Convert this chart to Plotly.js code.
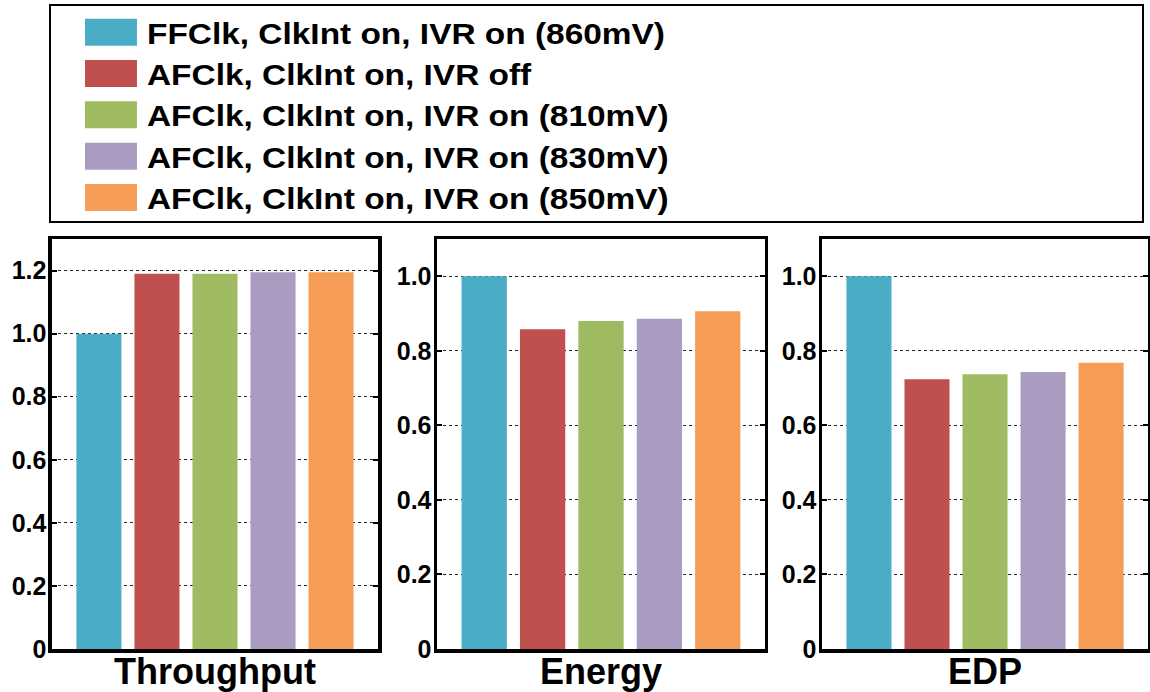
<!DOCTYPE html>
<html>
<head>
<meta charset="utf-8">
<script src="https://cdn.plot.ly/plotly-3.0.1.min.js"></script>
<style>
  html, body { margin: 0; padding: 0; background: #fff; }
  #chart { width: 1150px; height: 692px; }
  g.legendpoints path { transform: translate(36px, 0px) scale(4.33, 2.25) !important; }
  text.legendtext { transform-box: fill-box; transform-origin: left center; transform: scaleX(1.133); }
</style>
</head>
<body>
<div id="chart"></div>
<script>
// ---- data ----
const metrics = ['Throughput', 'Energy', 'EDP'];
const seriesNames = [
  'FFClk, ClkInt on, IVR on (860mV)',
  'AFClk, ClkInt on, IVR off',
  'AFClk, ClkInt on, IVR on (810mV)',
  'AFClk, ClkInt on, IVR on (830mV)',
  'AFClk, ClkInt on, IVR on (850mV)'
];
const throughput = [1.0, 1.19, 1.19, 1.195, 1.195];
const energy     = [1.0, 0.858, 0.880, 0.886, 0.906];
const edp        = [1.0, 0.724, 0.737, 0.743, 0.768];
const colors = ['#4BACC6', '#C0504D', '#9FBB62', '#AA9BC0', '#F59D56'];
const yTicks1 = [0, 0.2, 0.4, 0.6, 0.8, 1.0, 1.2];
const yTickText1 = ['0', '0.2', '0.4', '0.6', '0.8', '1.0', '1.2'];
const yTicks2 = [0, 0.2, 0.4, 0.6, 0.8, 1.0];
const yTickText2 = ['0', '0.2', '0.4', '0.6', '0.8', '1.0'];

const metricValues = [throughput, energy, edp];
const axisIds = [['x', 'y'], ['x2', 'y2'], ['x3', 'y3']];

const traces = [];
metricValues.forEach((vals, m) => {
  seriesNames.forEach((name, s) => {
    traces.push({
      type: 'bar',
      name: name,
      legendgroup: 's' + s,
      showlegend: m === 0,
      x: [metrics[m]],
      y: [vals[s]],
      xaxis: axisIds[m][0],
      yaxis: axisIds[m][1],
      marker: { color: colors[s], line: { width: 0 } },
      hoverinfo: 'skip'
    });
  });
});

const FONT = 'Liberation Sans, Arial, sans-serif';
function xAxis(domain, anchor) {
  return {
    domain: domain, anchor: anchor, type: 'category', range: [-0.5, 0.5],
    showline: true, linecolor: '#000', linewidth: 3.5, mirror: true,
    ticks: '', showgrid: false, zeroline: false, fixedrange: true,
    ticklabelstandoff: -12,
    tickfont: { family: FONT, size: 36, color: '#000', weight: 'bold' }
  };
}
function yAxis(domain, anchor, maxv, tv, tt) {
  return {
    domain: domain, anchor: anchor, range: [0, maxv],
    tickvals: tv, ticktext: tt,
    showline: true, linecolor: '#000', linewidth: 3.5, mirror: 'ticks',
    ticks: 'inside', ticklen: 5, tickwidth: 2, tickcolor: '#000',
    showgrid: true, gridcolor: '#222', griddash: 'dot', gridwidth: 1,
    zeroline: false, fixedrange: true, ticklabelstandoff: -3,
    tickfont: { family: FONT, size: 25, color: '#000', weight: 'bold' }
  };
}

const yd = [0, 0.6317];
const layout = {
  width: 1150, height: 692,
  margin: { l: 0, r: 0, t: 0, b: 43 },
  paper_bgcolor: '#fff', plot_bgcolor: '#fff',
  barmode: 'group', bargap: 0.11, bargroupgap: 0.224,
  showlegend: true,
  legend: {
    x: 0.0652, y: 0.990, xanchor: 'left', yanchor: 'top',
    bgcolor: 'rgba(0,0,0,0)', borderwidth: 0,
    itemwidth: 62, tracegroupgap: 0, traceorder: 'normal',
    font: { family: FONT, size: 29.5, color: '#000', weight: 'bold' }
  },
  xaxis: xAxis([0.0452, 0.3287], 'y'),
  xaxis2: xAxis([0.3800, 0.6652], 'y2'),
  xaxis3: xAxis([0.7148, 0.9983], 'y3'),
  yaxis: yAxis(yd, 'x', 1.3, yTicks1, yTickText1),
  yaxis2: yAxis(yd, 'x2', 1.1, yTicks2, yTickText2),
  yaxis3: yAxis(yd, 'x3', 1.1, yTicks2, yTickText2),
  shapes: [{
    type: 'rect', xref: 'paper', yref: 'paper',
    x0: 50 / 1150, x1: 1143 / 1150,
    y0: (649 - 222) / 649, y1: (649 - 5) / 649,
    line: { color: '#000', width: 2 }, fillcolor: 'rgba(0,0,0,0)'
  }]
};

Plotly.newPlot('chart', traces, layout, { displayModeBar: false, staticPlot: true });
</script>
</body>
</html>
